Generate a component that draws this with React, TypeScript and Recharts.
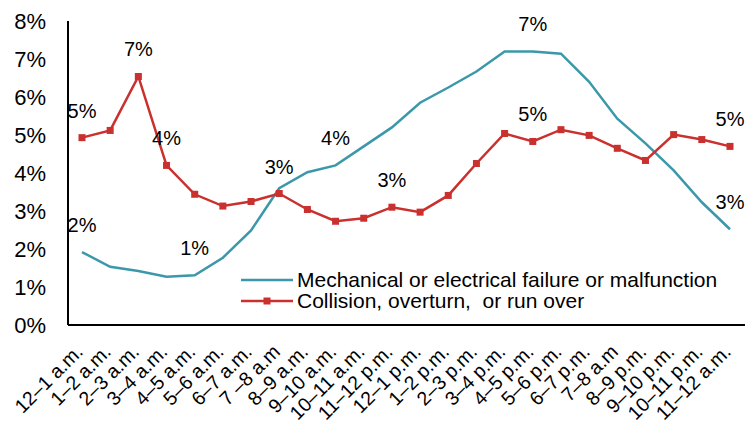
import React from 'react';
import {
  LineChart, Line, XAxis, YAxis, LabelList
} from 'recharts';

const hours = [
  '12–1 a.m.', '1–2 a.m.', '2–3 a.m.', '3–4 a.m.', '4–5 a.m.', '5–6 a.m.',
  '6–7 a.m.', '7 –8 a.m', '8–9 a.m.', '9–10 a.m.', '10–11 a.m.', '11–12 p.m.',
  '12–1 p.m.', '1–2 p.m.', '2–3 p.m.', '3–4 p.m.', '4–5 p.m.', '5–6 p.m.',
  '6–7 p.m.', '7–8 a.m', '8–9 p.m.', '9–10 p.m.', '10–11 p.m.', '11–12 a.m.',
];

const mechanical = [
  1.92, 1.53, 1.42, 1.27, 1.31, 1.77, 2.49, 3.6, 4.02, 4.2, 4.7, 5.2,
  5.85, 6.25, 6.67, 7.2, 7.2, 7.14, 6.4, 5.43, 4.78, 4.07, 3.23, 2.52,
];

const collision = [
  4.93, 5.12, 6.54, 4.2, 3.44, 3.13, 3.25, 3.46, 3.04, 2.73, 2.81, 3.1,
  2.97, 3.41, 4.25, 5.04, 4.83, 5.14, 4.99, 4.65, 4.33, 5.01, 4.88, 4.7,
];

// which points carry a percentage label
const mechanicalLabels = [0, 4, 9, 16, 23];
const collisionLabels = [0, 2, 3, 7, 11, 16, 23];

const yTicks = [0, 1, 2, 3, 4, 5, 6, 7, 8];

const TEAL = '#3b98ab';
const RED = '#c9302e';
const FONT = '"Liberation Sans", Arial, sans-serif';

const data = hours.map((h, i) => ({
  hour: h,
  mechanical: mechanical[i],
  collision: collision[i],
}));

const XTick = ({ x, y, payload }: any) => (
  <g transform={`translate(${x + 2},${y + 26})`}>
    <text x={0} y={0} textAnchor="end" transform="rotate(-45)" fontSize={19.5} fill="#000" fontFamily={FONT}>
      {payload.value}
    </text>
  </g>
);

const makeLabel = (shown: number[]) => (props: any) => {
  const { x, y, value, index } = props;
  if (!shown.includes(index)) return null;
  return (
    <text x={x} y={y - 27} dy="0.35em" textAnchor="middle" fontSize={20} fill="#000" fontFamily={FONT}>
      {`${Math.round(value)}%`}
    </text>
  );
};

const SquareDot = (props: any) => {
  const { cx, cy, index } = props;
  return <rect key={`sq-${index}`} x={cx - 3.5} y={cy - 3.5} width={7} height={7} fill={RED} />;
};

// legend sits inside the plot, bottom-middle
const LegendBox = () => (
  <div style={{ position: 'absolute', left: 240, top: 269, fontFamily: FONT, fontSize: 21, color: '#000', lineHeight: '22px', whiteSpace: 'nowrap' }}>
    <div style={{ display: 'flex', alignItems: 'center', height: 21 }}>
      <svg width={57} height={12}>
        <line x1={1} y1={6} x2={53} y2={6} stroke={TEAL} strokeWidth={2.5} />
      </svg>
      <span>Mechanical or electrical failure or malfunction</span>
    </div>
    <div style={{ display: 'flex', alignItems: 'center', height: 21 }}>
      <svg width={57} height={12}>
        <line x1={1} y1={6} x2={53} y2={6} stroke={RED} strokeWidth={2.5} />
        <rect x={23.5} y={2.5} width={7} height={7} fill={RED} />
      </svg>
      <span>Collision, overturn,&nbsp; or run over</span>
    </div>
  </div>
);

export default function App() {
  return (
    <div style={{ position: 'absolute', left: 0, top: 0, width: 746, height: 423, background: '#fff' }}>
      <LineChart width={746} height={423} data={data} margin={{ top: 21, right: 1, left: 0, bottom: 0 }}>
        <XAxis
          dataKey="hour"
          interval={0}
          height={98}
          padding={{ left: 14, right: 15 }}
          tickLine={false}
          tickSize={0}
          axisLine={{ stroke: '#000', strokeWidth: 2 }}
          tick={<XTick />}
        />
        <YAxis
          width={68}
          domain={[0, 8]}
          ticks={yTicks}
          tickFormatter={(v) => `${v}%`}
          tickLine={false}
          tickSize={0}
          tickMargin={22}
          axisLine={{ stroke: '#000', strokeWidth: 2 }}
          tick={{ fill: '#000', fontSize: 22, fontFamily: FONT }}
        />
        <Line
          type="linear"
          dataKey="mechanical"
          stroke={TEAL}
          strokeWidth={2.5}
          dot={false}
          isAnimationActive={false}
        >
          <LabelList dataKey="mechanical" content={makeLabel(mechanicalLabels)} />
        </Line>
        <Line
          type="linear"
          dataKey="collision"
          stroke={RED}
          strokeWidth={2.5}
          dot={<SquareDot />}
          isAnimationActive={false}
        >
          <LabelList dataKey="collision" content={makeLabel(collisionLabels)} />
        </Line>
      </LineChart>
      <LegendBox />
    </div>
  );
}
